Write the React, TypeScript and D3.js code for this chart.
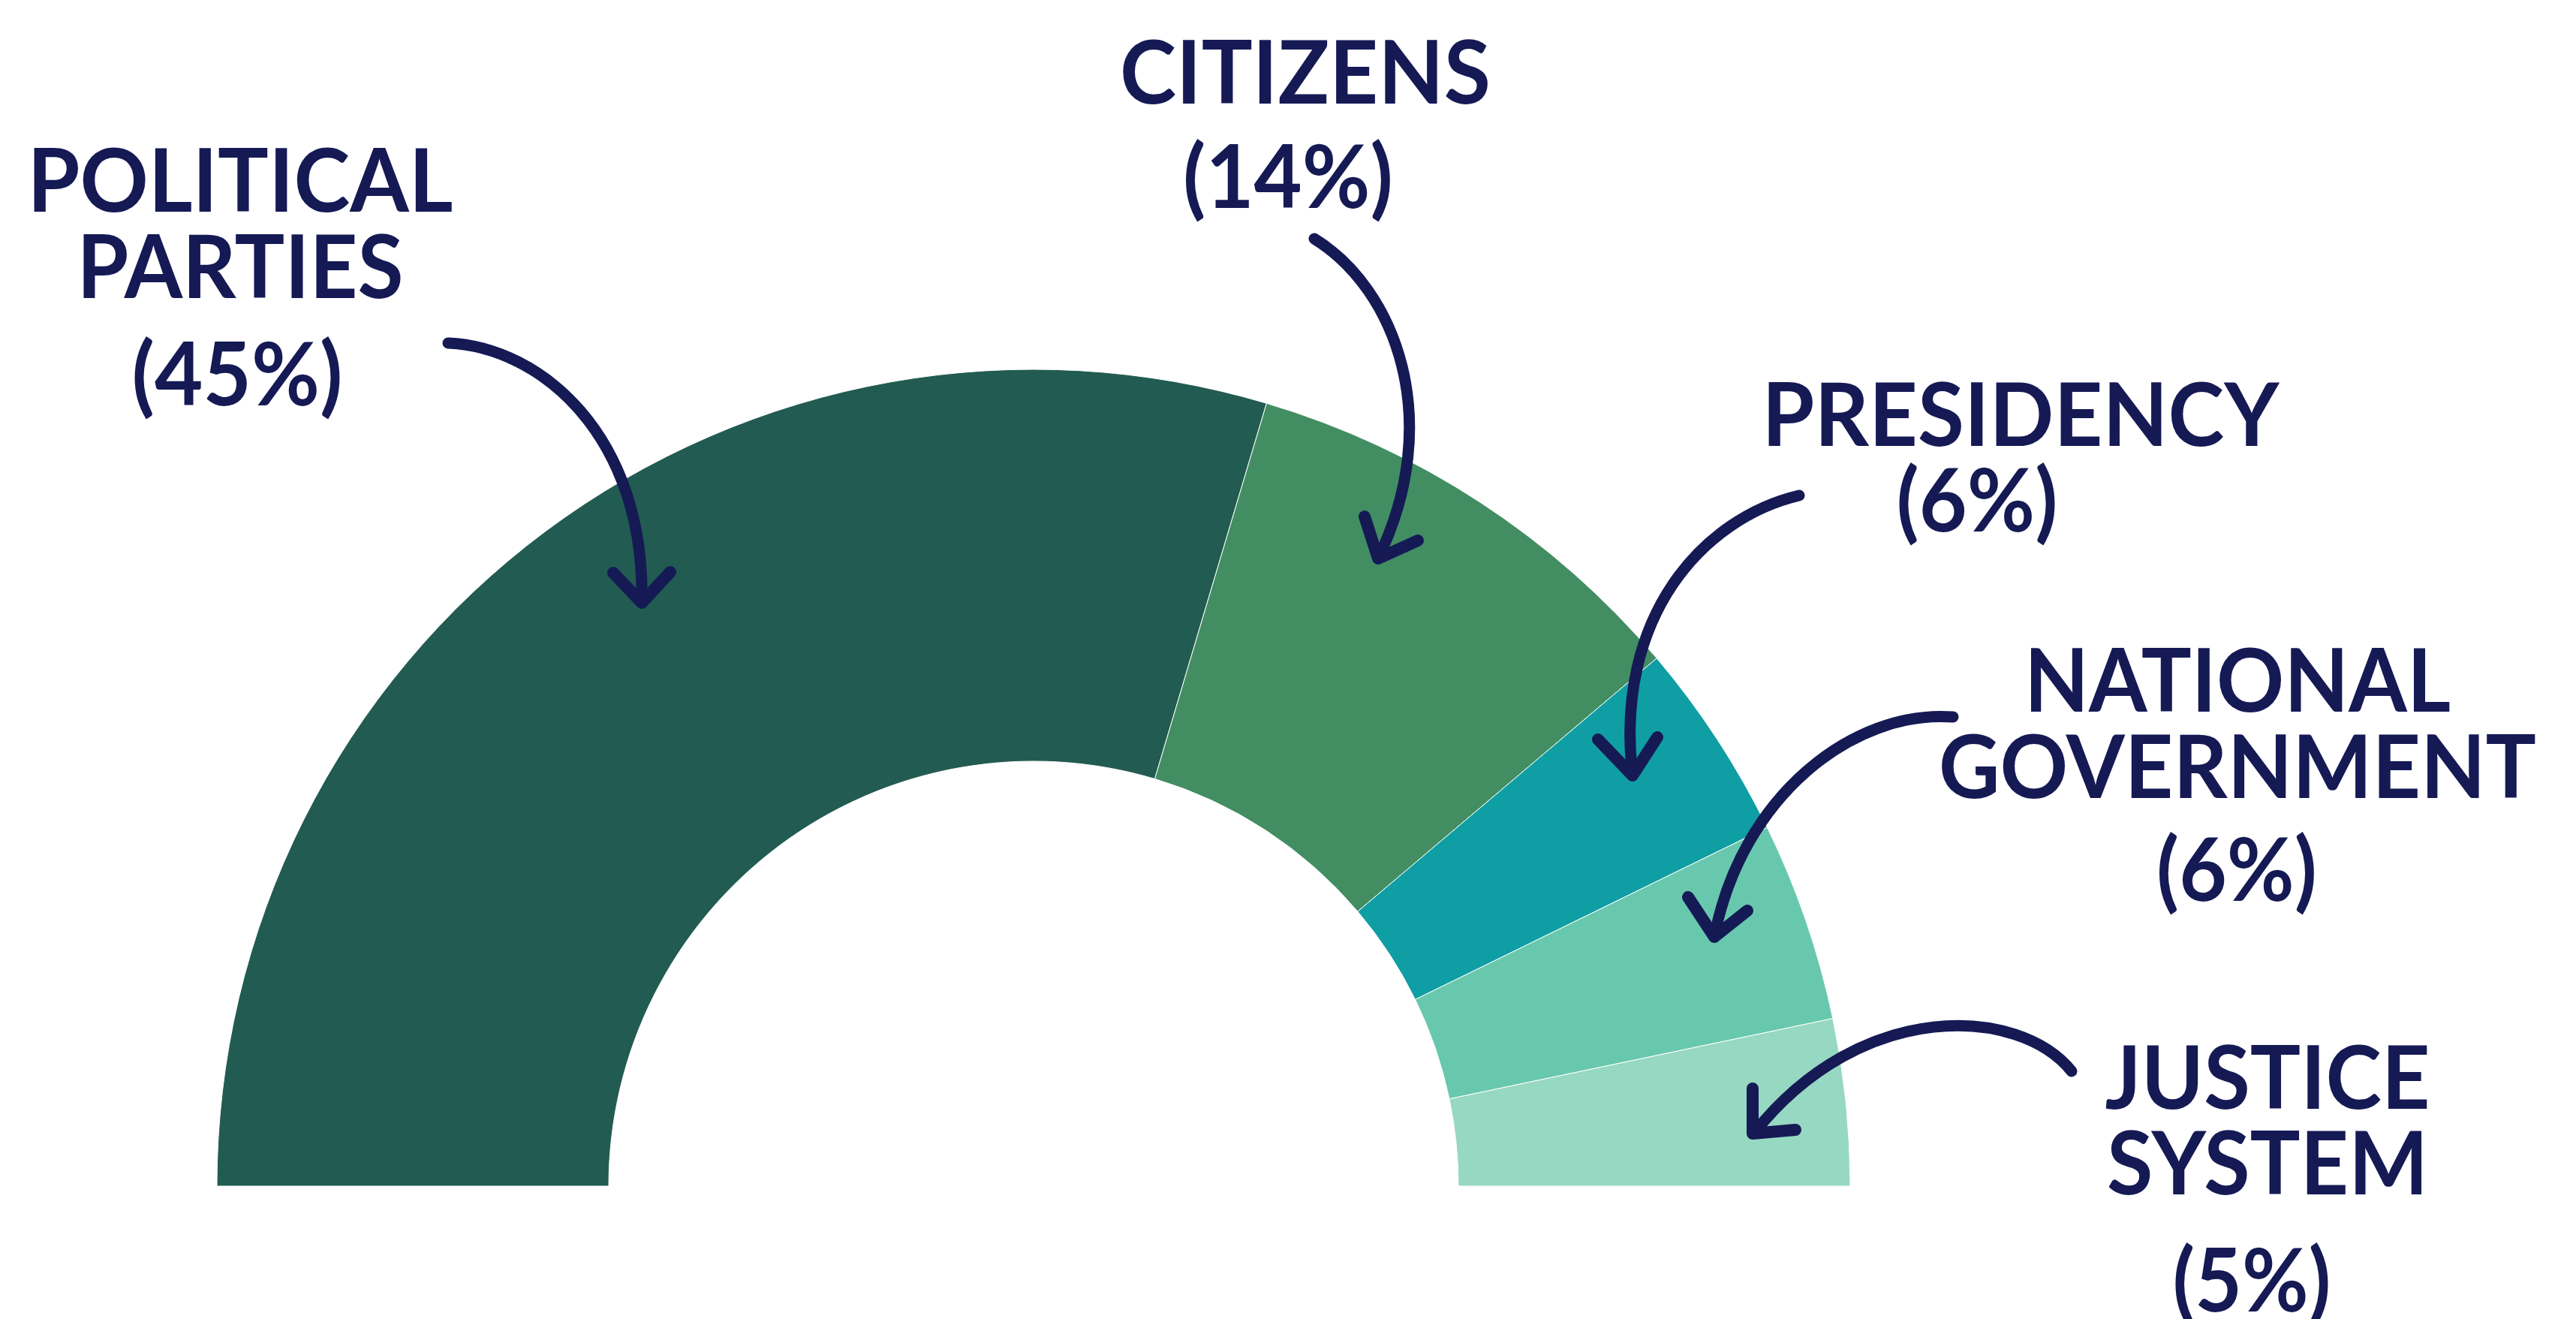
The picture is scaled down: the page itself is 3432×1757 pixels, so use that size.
import { useEffect, useRef } from "react";
import * as d3 from "d3";

// ==== DATA ====
const CATEGORIES = ["Political Parties", "Citizens", "Presidency", "National Government", "Justice System"];
const VALUES = [45, 14, 6, 6, 5];
const COLORS = ["#225b51", "#428e62", "#109ea5", "#68c8ae", "#96d8c2"];

// label lines per category (upper-case as printed)
const LABEL_LINES = [
    ["POLITICAL", "PARTIES"],
    ["CITIZENS"],
    ["PRESIDENCY"],
    ["NATIONAL", "GOVERNMENT"],
    ["JUSTICE", "SYSTEM"],
];

// ==== LAYOUT ====
const W = 3432;
const H = 1757;
const CX = 1377;
const CY = 1580;
const R_OUT = 1088;
const R_IN = 566;
const INK = "#151a55";
const FONT = "Lato, 'Open Sans', sans-serif";
const FONT_SIZE = 116;

// label anchors: center x, first baseline, line gap, gap to the percent line, widths
const LABEL_POS = [
    { x: 320, y: 282, gap: 115, pctX: 316, pctGap: 143, widths: [567, 435], pctW: 281 },
    { x: 1739, y: 138, gap: 115, pctX: 1716, pctGap: 139, widths: [494], pctW: 280 },
    { x: 2692, y: 594, gap: 115, pctX: 2634, pctGap: 114, widths: [689], pctW: 215 },
    { x: 2981, y: 948, gap: 115, pctX: 2980, pctGap: 137, widths: [568, 796], pctW: 214 },
    { x: 3021, y: 1477, gap: 114, pctX: 3000, pctGap: 156, widths: [433, 428], pctW: 211 },
];

// hand-drawn arrows: shaft curve and head (arm, tip, arm)
const ARROWS = [
    { shaft: "M597,457 C720,462 860,580 855,803", head: "M817,763 L855,803 L893,762" },
    { shaft: "M1751,318 C1860,385 1925,560 1836,744", head: "M1818,688 L1836,744 L1889,720" },
    { shaft: "M2397,660 C2270,690 2150,820 2175,1033", head: "M2129,985 L2175,1033 L2208,982" },
    { shaft: "M2602,955 C2470,945 2320,1060 2284,1248", head: "M2249,1195 L2284,1248 L2328,1213" },
    { shaft: "M2760,1427 C2690,1340 2480,1330 2338,1508", head: "M2335,1450 L2335,1510 L2392,1505" },
];

export default function App() {
    const svgRef = useRef<SVGSVGElement | null>(null);

    useEffect(() => {
        const svg = d3.select(svgRef.current);
        svg.selectAll("*").remove();

        svg.append("rect").attr("width", W).attr("height", H).attr("fill", "#ffffff");

        const pie = d3
            .pie<number>()
            .sort(null)
            .startAngle(-Math.PI / 2)
            .endAngle(Math.PI / 2);

        const arc = d3.arc<d3.PieArcDatum<number>>().innerRadius(R_IN).outerRadius(R_OUT);

        const g = svg.append("g").attr("transform", `translate(${CX},${CY})`);

        g.selectAll("path.slice")
            .data(pie(VALUES))
            .join("path")
            .attr("class", "slice")
            .attr("d", arc)
            .attr("fill", (_, i) => COLORS[i])
            .attr("stroke", "#ffffff")
            .attr("stroke-width", 1)
            .append("title")
            .text((d, i) => `${CATEGORIES[i]}: ${d.data}%`);

        // labels
        const labels = svg.append("g").attr("font-family", FONT).attr("font-weight", 700)
            .attr("font-size", FONT_SIZE).attr("fill", INK).attr("text-anchor", "middle");

        LABEL_LINES.forEach((lines, i) => {
            const p = LABEL_POS[i];
            lines.forEach((line, j) => {
                labels.append("text")
                    .attr("x", p.x)
                    .attr("y", p.y + j * p.gap)
                    .attr("textLength", p.widths[j])
                    .attr("lengthAdjust", "spacingAndGlyphs")
                    .text(line);
            });
            labels.append("text")
                .attr("x", p.pctX)
                .attr("y", p.y + (lines.length - 1) * p.gap + p.pctGap)
                .attr("textLength", p.pctW)
                .attr("lengthAdjust", "spacingAndGlyphs")
                .text(`(${VALUES[i]}%)`);
        });

        // arrows
        const arrows = svg.append("g").attr("fill", "none").attr("stroke", INK)
            .attr("stroke-linecap", "round").attr("stroke-linejoin", "round");

        arrows.selectAll("path.shaft")
            .data(ARROWS)
            .join("path")
            .attr("class", "shaft")
            .attr("d", (d) => d.shaft)
            .attr("stroke-width", 15);

        arrows.selectAll("path.head")
            .data(ARROWS)
            .join("path")
            .attr("class", "head")
            .attr("d", (d) => d.head)
            .attr("stroke-width", 16);
    }, []);

    return (
        <svg
            ref={svgRef}
            width={W}
            height={H}
            viewBox={`0 0 ${W} ${H}`}
            style={{ position: "absolute", top: 0, left: 0, display: "block" }}
        />
    );
}
